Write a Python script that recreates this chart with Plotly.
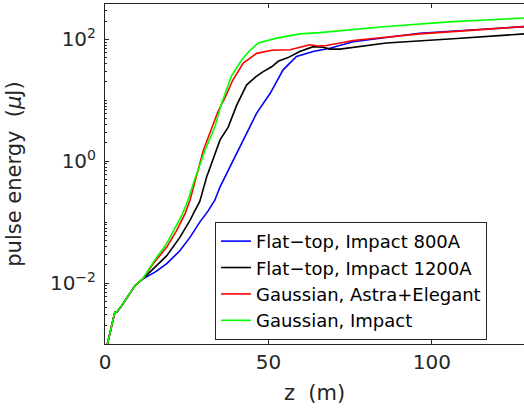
import plotly.graph_objects as go

# z positions (m) and log10 pulse energy (uJ)
z_common = [0.3, 0.7, 2.0, 3.0, 3.7, 5.0, 7.1, 9.2, 11.6]
e_common = [-3.1, -3.0, -2.73, -2.48, -2.47, -2.38, -2.21, -2.04, -1.93]

z_blue = [15.3, 18.9, 22.9, 26.0, 29.0, 31.5, 33.6, 35.2, 39.2, 43.3, 46.4, 50.5, 53.0,
          54.5, 58.6, 63.7, 68.8, 75.9, 96.3, 116.7, 128.5]
e_blue = [-1.82, -1.68, -1.47, -1.25, -1.0, -0.82, -0.64, -0.42, 0.02, 0.46, 0.79, 1.11, 1.36,
          1.50, 1.72, 1.80, 1.855, 1.96, 2.10, 2.17, 2.21]

z_black = [15.3, 18.9, 22.9, 26.0, 27.5, 29.0, 31.1, 35.2, 37.7, 40.3, 43.3, 46.0, 48.4,
           51.0, 53.0, 56.0, 59.6, 63.7, 66.8, 68.8, 71.9, 86.1, 106.5, 128.5]
e_black = [-1.74, -1.55, -1.25, -0.97, -0.81, -0.66, -0.26, 0.35, 0.56, 0.92, 1.25, 1.38, 1.47,
           1.55, 1.64, 1.70, 1.80, 1.88, 1.87, 1.84, 1.84, 1.94, 2.01, 2.09]

z_red = [14.8, 18.9, 21.9, 24.5, 26.0, 30.1, 34.6, 36.8, 39.0, 42.3, 46.4, 51.0, 56.6,
         62.7, 65.0, 67.8, 75.9, 96.3, 111.6, 128.5]
e_red = [-1.68, -1.41, -1.14, -0.86, -0.64, 0.18, 0.82, 1.05, 1.32, 1.61, 1.77, 1.82, 1.83,
         1.91, 1.89, 1.90, 1.98, 2.09, 2.145, 2.21]

z_green = [15.0, 18.9, 23.5, 25.4, 27.0, 30.6, 33.6, 35.5, 38.7, 41.8, 44.0, 46.9, 52.5,
           59.6, 65.7, 86.1, 106.5, 128.5]
e_green = [-1.64, -1.35, -0.89, -0.64, -0.37, 0.18, 0.56, 0.92, 1.40, 1.66, 1.80, 1.94, 2.02,
           2.09, 2.11, 2.21, 2.29, 2.35]

names = ["Flat\u2212top, Impact 800A", "Flat\u2212top, Impact 1200A",
         "Gaussian, Astra+Elegant", "Gaussian, Impact"]
colors = ["#0000ff", "#000000", "#ff0000", "#00ff00"]
series = [(z_blue, e_blue), (z_black, e_black), (z_red, e_red), (z_green, e_green)]

fig = go.Figure()
for (zs, es), name, col in zip(series, names, colors):
    zz = z_common + zs
    ee = [10 ** v for v in (e_common + es)]
    fig.add_trace(go.Scatter(x=zz, y=ee, mode="lines", name=name,
                             line=dict(color=col, width=1.6)))

font_family = "DejaVu Sans"
axis_col = "#262626"
fig.update_layout(
    width=524, height=408,
    margin=dict(l=105, r=0, t=4, b=64),
    paper_bgcolor="white", plot_bgcolor="white",
    font=dict(family=font_family, color=axis_col, size=20),
    showlegend=True,
    legend=dict(x=0.2625, y=0.012, xanchor="left", yanchor="bottom",
                bgcolor="white", bordercolor=axis_col, borderwidth=1,
                font=dict(size=18, color="#000000"), tracegroupgap=0,
                itemwidth=30),
)
fig.update_xaxes(range=[0, 128.2], tickvals=[0, 50, 100], ticktext=["0", "50", "100"],
                 ticks="inside", ticklen=4, tickcolor=axis_col, showline=True,
                 linecolor=axis_col, linewidth=1, mirror="ticks", showgrid=False,
                 zeroline=False, automargin=False,
                 title=dict(text="z  (m)", standoff=12, font=dict(size=21)))
fig.update_yaxes(type="log", range=[-3, 2.58], tickvals=[1e-2, 1, 1e2],
                 ticktext=["10<sup>\u22122</sup>", "10<sup>0</sup>", "10<sup>2</sup>"],
                 ticks="inside", ticklen=4, tickcolor=axis_col, showline=True,
                 linecolor=axis_col, linewidth=1, mirror=False, showgrid=False,
                 zeroline=False, automargin=False, ticklabelstandoff=4,
                 minor=dict(ticks="inside", ticklen=2, tickcolor=axis_col, dtick="D1",
                            showgrid=False),
                 title=dict(text="pulse energy  (<i>\u03bc</i>J)", standoff=22,
                            font=dict(size=21)))
fig.write_html("out.html", config={"displayModeBar": False},
               post_script="document.body.style.margin='0';")
